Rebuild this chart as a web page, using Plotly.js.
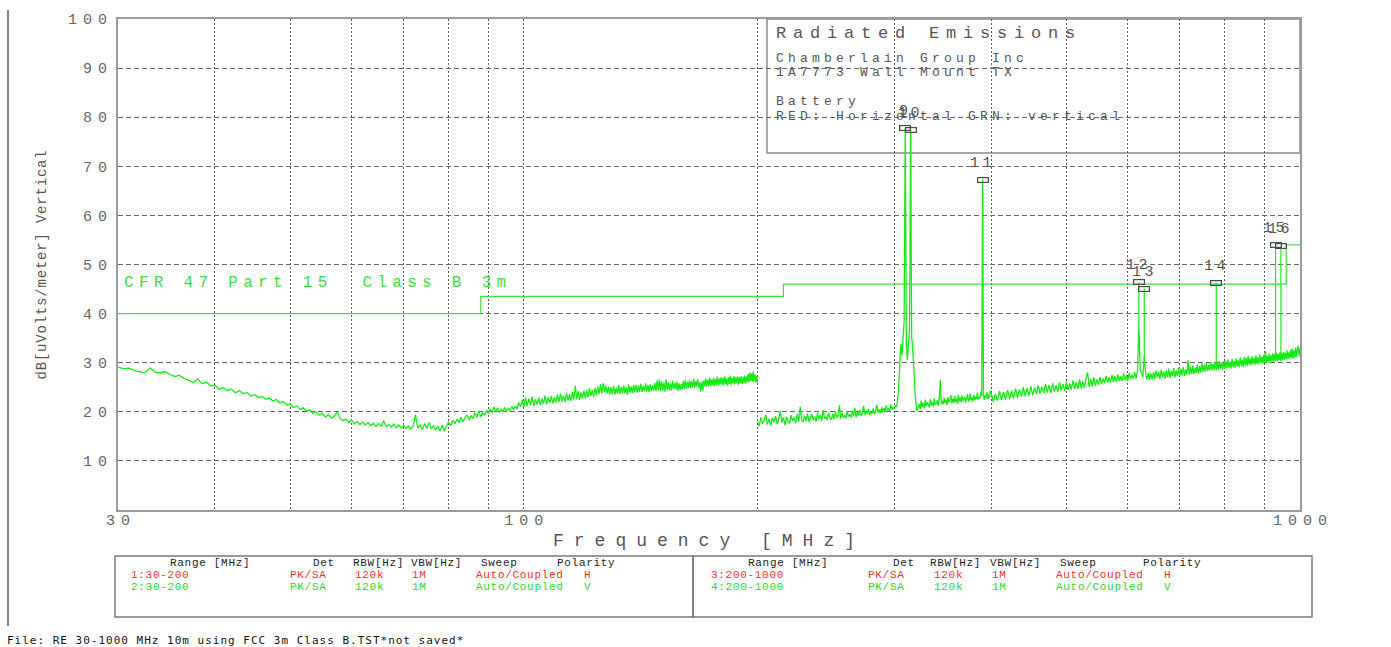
<!DOCTYPE html>
<html>
<head>
<meta charset="utf-8">
<script src="https://cdn.plot.ly/plotly-3.0.1.min.js"></script>
<style>
  html, body { margin: 0; padding: 0; background: #ffffff; }
  #chart { width: 1391px; height: 647px; }
</style>
</head>
<body>
<div id="chart"></div>
<script>
// Sweep 2: vertical polarity, 30-200 MHz, 0.5 MHz bins (dBuV/m)
const sweepLowStart = 30;
const sweepLowStep = 0.5;
const sweepLowDb = [
  29.1,28.8,28.9,28.4,28.2,28.0,28.9,28.1,27.9,28.2,27.6,27.2,27.4,26.8,26.4,25.9,26.7,25.7,26.0,25.3,
  25.4,24.6,24.9,24.3,24.6,23.9,24.3,23.7,23.9,23.2,23.5,22.9,23.1,22.6,22.8,22.2,22.5,21.8,22.1,21.4,
  21.6,20.9,21.2,20.5,20.8,20.1,20.4,19.6,20.0,19.3,19.7,18.9,19.4,18.7,19.1,20.0,18.6,18.2,18.5,17.8,
  18.3,17.6,18.0,17.4,17.9,17.3,17.8,17.2,17.7,17.0,17.6,17.1,18.2,17.0,17.4,16.9,17.5,16.8,17.3,16.7,
  17.2,16.6,17.1,16.5,17.0,19.4,16.7,17.3,16.4,17.6,16.6,17.8,16.5,17.2,16.3,17.0,16.1,17.3,16.0,17.1,
  17.9,17.2,18.3,17.6,18.5,17.8,18.9,18.0,18.7,19.4,18.4,19.2,18.6,19.8,18.9,20.2,19.0,19.9,19.3,20.4,
  19.6,20.6,19.8,21.0,20.1,20.8,19.9,20.5,20.0,20.9,20.2,20.7,20.3,21.1,20.4,21.2,20.6,21.9,21.0,22.4,
  21.0,22.9,21.1,22.7,21.3,23.1,21.2,22.5,21.5,22.9,21.4,22.7,21.6,23.3,21.5,23.0,21.8,23.2,21.7,23.0,
  21.9,23.5,22.0,23.7,22.1,23.3,22.0,23.8,22.3,23.6,22.2,24.0,22.5,25.3,22.6,24.2,22.4,23.9,22.7,24.3,
  22.8,24.5,23.0,24.8,23.2,24.4,23.1,24.9,23.4,25.2,23.6,25.6,23.7,25.8,23.9,25.4,23.8,25.1,23.5,25.0,
  23.6,25.3,23.5,24.9,23.7,25.5,23.6,25.1,23.8,25.4,23.7,25.0,23.5,25.6,23.9,25.2,23.8,25.5,24.0,25.5,
  23.9,25.4,24.1,25.7,24.0,25.3,24.2,25.8,24.1,25.5,24.0,25.6,24.2,25.4,24.3,25.9,24.2,26.4,24.4,26.6,
  24.2,26.2,24.3,25.9,24.1,26.6,24.5,26.0,24.4,25.8,24.3,26.3,24.6,25.9,24.5,26.1,24.2,25.8,24.4,25.7,
  24.6,26.3,24.8,26.5,24.7,26.1,24.9,26.4,24.8,26.2,25.0,26.7,24.9,26.3,25.1,26.6,25.0,26.0,24.2,26.2,
  24.3,26.4,25.1,26.8,25.2,26.5,25.3,27.0,25.2,26.6,25.4,26.9,25.3,26.7,25.5,27.1,25.4,26.8,25.6,27.0,
  25.5,26.9,25.4,27.2,25.6,26.8,25.3,27.0,25.7,27.4,25.5,26.9,25.8,27.3,25.6,27.0,25.9,27.2,25.5,27.1,
  25.8,27.3,25.7,27.0,25.9,27.4,25.8,27.2,26.1,27.7,26.0,28.0,26.3,27.8,26.1,28.2,26.2,27.6,26.0,27.3,26.0
];

// Sweep 4: vertical polarity, 200-399 MHz at 1 MHz bins (dBuV/m)
const sweepMidStart = 200;
const sweepMidStep = 1;
const sweepMidDb = [
  18.0,17.1,18.9,17.6,18.3,19.4,17.4,18.6,17.2,18.8,
  17.9,19.1,17.5,18.4,20.2,17.8,18.9,17.3,19.0,18.1,
  17.6,19.3,18.2,18.8,17.7,19.6,18.0,21.0,18.4,17.9,
  19.2,18.1,19.7,17.9,18.7,19.5,18.3,19.0,18.0,19.8,
  18.5,19.3,18.2,20.4,18.6,19.1,18.3,19.9,18.7,18.4,
  19.6,18.5,20.0,18.8,19.4,21.3,18.6,19.7,18.9,19.2,
  18.7,20.1,19.0,19.5,18.8,20.3,19.1,20.8,18.9,19.9,
  19.3,20.4,19.2,19.8,21.2,19.4,20.2,19.5,20.6,19.3,
  20.0,19.6,20.7,19.5,20.3,21.4,19.8,20.5,19.7,20.9,
  20.1,20.8,19.9,21.3,20.3,20.6,20.2,21.5,20.4,21.0,
  20.6,21.3,21.0,22.4,24.8,29.6,33.8,31.5,35.0,38.5,
  77.8,34.2,30.5,33.6,36.8,77.4,35.2,32.8,29.0,24.6,
  21.8,20.2,20.9,21.6,20.5,22.3,21.0,21.8,20.7,22.5,
  21.2,22.0,21.5,20.9,22.6,21.3,21.9,21.1,22.8,21.4,
  21.7,22.4,21.2,23.1,26.5,21.6,22.2,21.5,22.9,21.8,
  22.5,21.4,23.0,21.9,22.3,23.4,21.7,22.6,21.8,23.2,
  22.0,22.7,21.6,23.5,22.1,22.9,21.9,23.3,22.2,22.6,
  23.0,21.9,22.8,23.6,22.0,22.5,23.7,22.3,22.9,22.1,
  23.4,22.4,23.1,22.6,23.9,22.5,23.0,22.7,24.1,23.2,
  67.3,23.6,22.4,23.3,22.8,24.0,22.6,23.5,22.9,24.2
];

// Sweep 4 continued: 400-1000 MHz at 2.5 MHz bins (dBuV/m)
const sweepHighStart = 400;
const sweepHighStep = 2.5;
const sweepHighDb = [
  23.9,22.1,23.6,22.3,24.2,22.4,24.0,22.5,24.4,22.6,
  24.3,22.7,24.7,22.9,24.5,23.1,25.0,23.2,24.8,23.3,
  25.2,23.4,24.9,23.6,25.4,23.7,25.1,23.8,25.7,23.9,
  25.5,23.8,25.8,24.1,25.4,24.0,26.0,24.3,25.7,24.2,
  26.1,24.4,25.8,24.5,26.4,24.6,26.0,24.7,26.6,24.8,
  26.2,24.9,26.8,28.0,25.1,26.7,25.2,27.0,25.3,26.6,
  25.5,27.1,25.7,26.8,25.8,27.3,25.9,27.0,26.0,27.5,
  26.0,27.3,26.1,27.6,26.2,27.2,26.3,27.8,26.4,27.4,
  26.4,27.9,26.6,27.5,26.7,28.1,26.8,28.4,37.3,28.6,
  28.0,27.1,31.6,27.9,26.6,27.9,26.5,27.8,26.6,28.1,
  26.6,28.4,27.0,28.1,26.7,28.6,27.1,28.2,26.8,28.5,
  27.0,28.8,26.9,28.3,27.2,28.9,27.0,28.4,27.3,29.0,
  27.2,28.7,27.4,29.1,27.3,28.6,27.6,30.5,27.5,29.2,
  27.7,29.4,27.6,29.0,27.9,29.6,27.8,29.3,28.0,29.8,
  28.1,29.6,28.2,29.9,28.3,29.5,28.4,30.1,28.5,29.7,
  28.5,30.2,28.6,29.9,28.7,30.4,28.8,30.0,28.6,30.3,
  28.7,30.4,28.9,30.7,29.0,30.2,28.8,30.8,29.1,30.4,
  29.0,30.9,29.2,30.5,29.1,31.1,29.3,30.6,29.2,31.2,
  29.4,31.0,29.3,31.4,29.6,30.9,29.5,31.3,29.7,31.0,
  29.6,31.5,29.8,31.1,29.7,31.7,29.9,31.2,29.8,31.6,
  30.0,32.4,29.9,31.4,30.1,31.8,30.0,31.5,30.2,31.9,
  30.1,31.7,30.4,32.0,30.2,31.8,30.5,32.1,30.4,31.9,
  30.5,32.2,30.6,32.0,30.8,32.5,30.7,32.1,30.9,32.7,
  31.0,32.8,30.8,32.5,31.1,33.1,31.2,32.6,33.4,31.3,32.9
];

// FCC Part 15 Class B, 3 m limit line
const limitFreq = [30, 88, 88, 216, 216, 960, 960, 1000];
const limitDb = [40, 40, 43.5, 43.5, 46, 46, 54, 54];

// Peak markers
const markerNum = [9, 10, 11, 12, 13, 14, 15, 16];
const markerFreq = [310, 315, 390, 620, 630, 780, 930, 945];
const markerDb = [77.8, 77.4, 67.3, 46.4, 45.1, 46.3, 54.0, 53.7];

// Axes
const yTicks = [10, 20, 30, 40, 50, 60, 70, 80, 90, 100];
const xGrid = [30, 40, 50, 60, 70, 80, 90, 100, 200, 300, 400, 500, 600, 700, 800, 900, 1000];
const xTickText = { 30: '30', 100: '100', 1000: '1000' };

// Header block
const headTitle = 'Radiated Emissions';
const headLines = ['Chamberlain Group Inc', '1A7773 Wall Mount TX', 'Battery', 'RED: Horizontal GRN: vertical'];
const limitName = 'CFR 47 Part 15\u00a0 Class B 3m';

// Sweep setup table
const tableHeader = ['Range [MHz]', 'Det', 'RBW[Hz]', 'VBW[Hz]', 'Sweep', 'Polarity'];
const lowRows = [
  ['1:30-200', 'PK/SA', '120k', '1M', 'Auto/Coupled', 'H'],
  ['2:30-200', 'PK/SA', '120k', '1M', 'Auto/Coupled', 'V']
];
const highRows = [
  ['3:200-1000', 'PK/SA', '120k', '1M', 'Auto/Coupled', 'H'],
  ['4:200-1000', 'PK/SA', '120k', '1M', 'Auto/Coupled', 'V']
];
const fileLine = 'File: RE 30-1000 MHz 10m using FCC 3m Class B.TST*not saved*';

// ---- drawing ----
const MONO = 'Liberation Mono, DejaVu Sans Mono, monospace';
const INK = '#555555';
const TRACE = '#14ec14';
const LIMIT = '#3fe03f';
const ROWCOL = ['#ff2a2a', '#22dd22'];

// Plot area in page pixels
const L = 118, R = 1300, T = 19, B = 510;
const px = x => (x - L) / (R - L);
const py = y => (B - y) / (B - T);
const spaced = (t, ls) => '<span style="letter-spacing:' + ls + 'px">' + t + '</span>';

function sweepAxis(start, step, n) {
  const f = [];
  for (let i = 0; i < n; i++) f.push(Math.round((start + i * step) * 100) / 100);
  return f;
}
const lowFreq = sweepAxis(sweepLowStart, sweepLowStep, sweepLowDb.length);
const upFreq = sweepAxis(sweepMidStart, sweepMidStep, sweepMidDb.length)
  .concat(sweepAxis(sweepHighStart, sweepHighStep, sweepHighDb.length));
const upDb = sweepMidDb.concat(sweepHighDb);

function levelAt(f) {
  let best = 0;
  upFreq.forEach((v, i) => { if (Math.abs(v - f) < Math.abs(upFreq[best] - f)) best = i; });
  return upDb[best];
}

// Marker drop lines from the trace up to each marker
const mlX = [], mlY = [];
markerFreq.forEach((f, i) => {
  mlX.push(f, f, null);
  mlY.push(levelAt(f), markerDb[i], null);
});

const data = [
  { x: lowFreq, y: sweepLowDb, type: 'scatter', mode: 'lines',
    line: { color: TRACE, width: 1.3, simplify: false }, hoverinfo: 'skip', showlegend: false },
  { x: upFreq, y: upDb, type: 'scatter', mode: 'lines',
    line: { color: TRACE, width: 1.3, simplify: false }, hoverinfo: 'skip', showlegend: false },
  { x: limitFreq, y: limitDb, type: 'scatter', mode: 'lines',
    line: { color: LIMIT, width: 1.2 }, hoverinfo: 'skip', showlegend: false },
  { x: mlX, y: mlY, type: 'scatter', mode: 'lines',
    line: { color: TRACE, width: 1.2 }, hoverinfo: 'skip', showlegend: false }
];

const annotations = [];
function text(t, x, y, size, color, ls, opts) {
  annotations.push(Object.assign({
    xref: 'paper', yref: 'paper', x: px(x), y: py(y),
    xanchor: 'left', yanchor: 'middle', showarrow: false,
    text: spaced(t, ls), font: { family: MONO, size: size, color: color }
  }, opts || {}));
}

// Header box text
text(headTitle, 774, 33, 17, INK, 6.8);
const headY = [58, 72, 101, 116];
headLines.forEach((t, i) => text(t, 774, headY[i], 13, INK, 4.2));

// Limit line name
text(limitName, 122, 283, 16, '#3fdc3f', 5.3);

// Marker boxes and numbers
markerNum.forEach((n, i) => {
  const ax = Math.log10(markerFreq[i]);
  annotations.push({
    xref: 'x', yref: 'y', x: ax, y: markerDb[i],
    xanchor: 'center', yanchor: 'middle', showarrow: false,
    text: '\u00a0', font: { family: MONO, size: 4, color: INK },
    width: 10, height: 4, borderpad: 0, borderwidth: 1.2, bordercolor: '#4a4a4a'
  });
  annotations.push({
    xref: 'x', yref: 'y', x: ax, y: markerDb[i],
    xanchor: 'center', yanchor: 'bottom', yshift: 6, showarrow: false,
    text: spaced(String(n), 3.5), font: { family: MONO, size: 15, color: INK }
  });
});

// Sweep setup table
const lowHeadX = [168, 311, 351, 409, 479, 555];
const lowRowX = [129, 288, 353, 410, 474, 582];
const highHeadX = [746, 891, 928, 988, 1058, 1141];
const highRowX = [709, 866, 932, 990, 1054, 1162];
const tabY = [563, 575, 587];
tableHeader.forEach((t, i) => {
  text(t, lowHeadX[i], tabY[0], 11, '#222222', 0.7);
  text(t, highHeadX[i], tabY[0], 11, '#222222', 0.7);
});
lowRows.forEach((row, r) => row.forEach((t, i) => text(t, lowRowX[i], tabY[r + 1], 11, ROWCOL[r], 0.7)));
highRows.forEach((row, r) => row.forEach((t, i) => text(t, highRowX[i], tabY[r + 1], 11, ROWCOL[r], 0.7)));

// File name line
annotations.push({
  xref: 'paper', yref: 'paper', x: px(5), y: py(640), xanchor: 'left', yanchor: 'middle',
  showarrow: false, text: spaced(fileLine, 1.0),
  font: { family: 'DejaVu Sans Mono, monospace', size: 11, color: '#111111' }
});

const shapes = [
  // header box (white fill hides the grid, traces stay on top)
  { type: 'rect', xref: 'paper', yref: 'paper', x0: px(767), x1: 1, y0: py(153), y1: 1,
    fillcolor: '#ffffff', line: { color: '#8a8a8a', width: 1.5 }, layer: 'between' },
  // table frames
  { type: 'rect', xref: 'paper', yref: 'paper', x0: px(115), x1: px(693), y0: py(617), y1: py(556),
    line: { color: '#7a7a7a', width: 1.5 } },
  { type: 'rect', xref: 'paper', yref: 'paper', x0: px(693), x1: px(1312), y0: py(617), y1: py(556),
    line: { color: '#7a7a7a', width: 1.5 } },
  // page rule on the left
  { type: 'line', xref: 'paper', yref: 'paper', x0: px(8), x1: px(8), y0: py(626), y1: py(10),
    line: { color: '#555555', width: 1.5 } }
];

const layout = {
  width: 1391, height: 647,
  margin: { l: L, r: 1391 - R, t: T, b: 647 - B, pad: 0 },
  paper_bgcolor: '#ffffff', plot_bgcolor: '#ffffff',
  showlegend: false,
  font: { family: MONO, color: INK },
  xaxis: {
    type: 'log', range: [Math.log10(30), 3],
    tickmode: 'array', tickvals: xGrid,
    ticktext: xGrid.map(v => xTickText[v] ? spaced(xTickText[v], 6) : ''),
    tickfont: { family: MONO, size: 15, color: '#666666' },
    ticks: '', ticklabelshift: 3, ticklabelstandoff: -5,
    showgrid: true, gridcolor: '#555555', gridwidth: 1, griddash: '2px,2px',
    showline: true, mirror: true, linecolor: '#9a9a9a', linewidth: 2,
    zeroline: false, fixedrange: true,
    title: { text: spaced('Frequency [MHz]', 10), font: { family: MONO, size: 18, color: INK }, standoff: 4 }
  },
  yaxis: {
    range: [0, 100],
    tickmode: 'array', tickvals: yTicks, ticktext: yTicks.map(v => spaced(String(v), 6)),
    tickfont: { family: MONO, size: 15, color: '#666666' },
    ticks: '',
    showgrid: true, gridcolor: '#666666', gridwidth: 1, griddash: '5px,3px',
    showline: true, mirror: true, linecolor: '#9a9a9a', linewidth: 2,
    zeroline: false, fixedrange: true,
    title: { text: spaced('dB[uVolts/meter] Vertical', 0.8), font: { family: MONO, size: 14, color: INK }, standoff: 18 }
  },
  annotations: annotations,
  shapes: shapes
};

Plotly.newPlot('chart', data, layout, { staticPlot: true, displayModeBar: false });
</script>
</body>
</html>
